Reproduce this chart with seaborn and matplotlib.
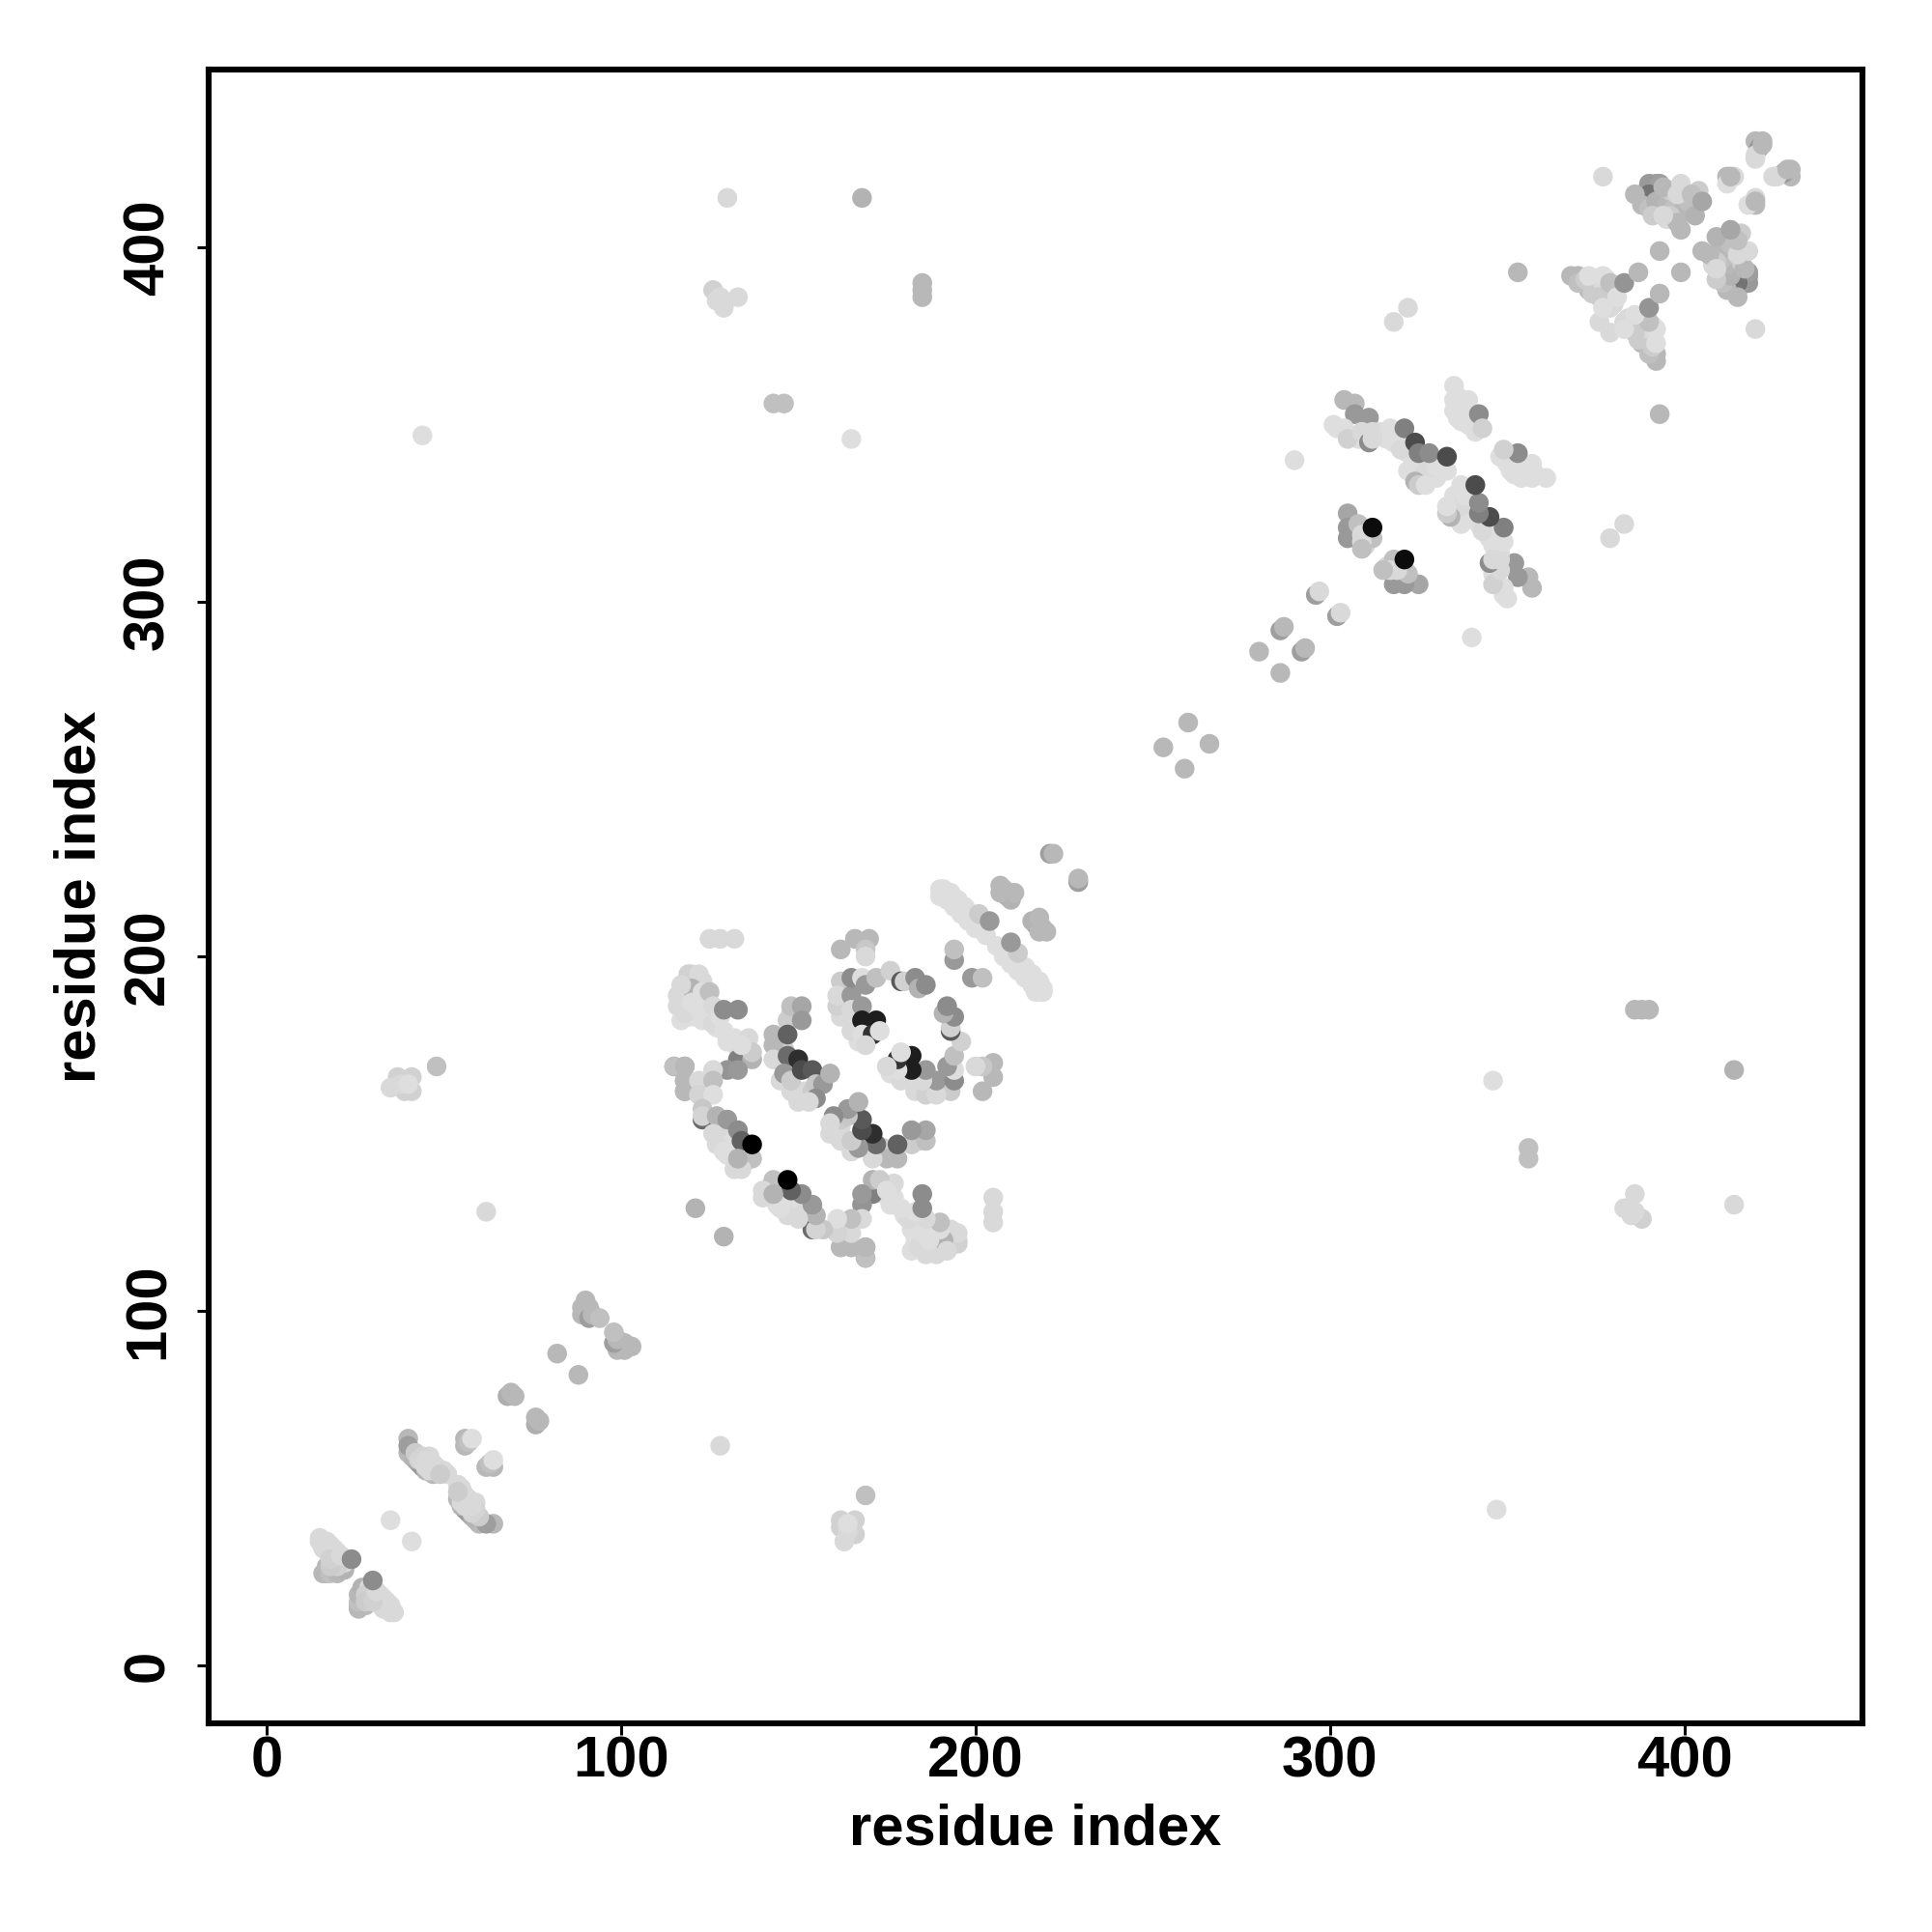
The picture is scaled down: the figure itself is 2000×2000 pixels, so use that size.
import pandas as pd
import matplotlib.pyplot as plt
import seaborn as sns

sns.set_style("white")
plt.rcParams['font.family'] = ['Liberation Sans', 'DejaVu Sans']
plt.rcParams['font.weight'] = 'bold'

# contacts as (residue i, residue j, grey level), only i < j, the map is symmetric
# drawn in list order, later ones lie on top
nterm = [(16,26,.72),(17,26,.72),(17,28,.72),(18,26,.75),(19,29,.75),(20,26,.72),(21,28,.8),(22,27,.7),
         (15,35,.85),(16,33,.85),(18,32,.85),(20,30,.85),(19,31,.85),(17,33,.85),(22,29,.85),(20,28,.82),(18,28,.8),
         (15,36,.85),(16,35,.85),(17,35,.85),(18,34,.85),(19,33,.85),(20,32,.85),(18,30,.82),(21,31,.85),
         (24,30,.55),(35,41,.87),
         (40,64,.72),(40,60,.72),(41,59,.72),(42,58,.7),(43,57,.66),(44,56,.6),(45,55,.7),(47,54,.72),
         (40,62,.62),(42,60,.8),(43,58,.83),(44,58,.85),(46,55,.85),(47,56,.85),(48,55,.85),(46,59,.85),(45,56,.85),(51,54,.85),
         (44,59,.83),(45,58,.85),(46,57,.85),(47,57,.85),(48,56,.85),(49,55,.85),(50,55,.85),(49,54,.8),
         (56,64,.72),(56,62,.72),(57,63,.75),(58,64,.87),
         (68,76,.68),(70,76,.72),(69,77,.72),(82,88,.72),
         (89,101,.72),(91,101,.72),(89,99,.72),(91,98,.62),(90,103,.72),(92,99,.72),(94,98,.75)]

far = [(130,414,.85),(168,414,.7),(126,388,.82),(127,385,.85),(129,383,.85),(128,386,.85),(133,386,.85),
       (185,386,.72),(185,388,.72),(185,390,.72),(143,356,.75),(146,356,.75),(44,347,.87),(165,346,.87),
       (37,166,.82),(41,166,.82),(39,162,.82),(41,162,.82),(37,164,.82),(48,169,.75),(62,128,.85),(121,129,.7),
       (38,164,.85),(35,163,.85),(40,164,.87)]

arc_low = [(125,205,.85),(128,205,.85),(132,205,.85),(115,169,.72),(118,162,.72),(118,165,.72),(118,169,.72),
           (131,146,.05),(116,186,.85),(117,190,.85),(118,187,.85),(119,190,.85),(120,184,.85),(121,186,.85),
           (122,187,.85),(121,192,.85),(123,193,.85),(124,188,.85),(117,182,.87),(124,183,.87),(120,195,.87),
           (119,183,.87),(121,183,.87),(123,182,.87),(125,184,.87),(127,180,.87),(130,176,.87),(133,174,.87),
           (135,172,.85),(129,148,.87),(131,148,.87),(130,144,.87),(127,147,.85),(128,152,.85),(135,142,.85)]

arc_one = [(119,195,.82),(122,195,.85),(116,189,.85),(118,184,.85),(120,191,.7),(117,192,.85),(120,187,.87),
           (123,190,.87),(122,185,.87),(125,190,.75),(126,186,.85),(126,181,.85),(128,183,.87),
           (129,185,.55),(133,185,.55),(129,179,.87),(132,177,.87),(136,177,.85),
           (133,171,.5),(137,171,.7),(130,168,.58),(133,168,.6),(137,173,.8),(134,175,.87),
           (115,169,.75),(118,169,.72),(118,165,.72),(118,162,.72),(122,165,.85),(122,161,.83),
           (126,168,.85),(126,165,.75),(126,161,.87),(123,157,.78),(123,154,.42),(123,155,.83),
           (127,155,.7),(130,154,.6),(133,151,.55),(126,150,.85),(129,145,.87),
           (134,148,.38),(137,143,.75),(134,140,.85),(132,140,.85),(133,143,.7),(137,147,.0)]

arc_two = [(146,170,.85),(144,172,.85),(145,165,.85),(148,162,.85),(150,162,.85),(152,162,.85),(154,162,.8),
           (146,174,.8),(147,182,.8),(148,184,.8),(149,183,.8),
           (148,186,.75),(151,186,.65),(151,182,.6),(143,178,.72),(143,175,.72),(143,171,.85),(147,178,.38),
           (147,172,.42),(146,167,.6),(148,165,.8),(150,171,.18),(151,168,.3),(154,168,.35),(155,164,.78),
           (157,164,.6),(159,167,.7),(155,160,.55),(150,159,.85),(153,159,.85)]

arc_top = [(162,202,.72),(166,205,.72),(170,205,.72),(169,202,.78),(169,200,.85),
           (163,190,.85),(163,186,.85),(162,183,.85),(164,184,.85),(166,180,.87),(167,176,.87),(169,178,.87),
           (162,193,.8),(161,186,.82),(161,189,.85),(165,189,.6),(165,194,.55),(168,194,.87),(169,192,.6),
           (172,194,.75),(176,196,.82),(179,193,.35),(180,193,.82),(183,194,.55),(184,191,.7),(186,192,.55),
           (165,185,.85),(168,186,.6),(165,179,.85),(168,182,.12),(172,182,.12),(168,178,.87),(171,178,.2),
           (169,175,.85),(173,179,.87)]

band = [(190,217,.87),(192,216,.87),(194,214,.87),(196,212,.87),(198,210,.87),(200,208,.87),(203,206,.87),
        (191,219,.87),(193,218,.87),(195,216,.87),(197,214,.87),(199,212,.87),(201,211,.87),
        (190,219,.87),(191,218,.87),(192,218,.87),(193,217,.87),(194,216,.87),(195,215,.87),(196,214,.87),
        (197,213,.87),(198,212,.87),(199,211,.87),(200,210,.87),(201,209,.87),(202,208,.87),(201,212,.8),(204,210,.6),
        (207,220,.72),(208,219,.72),(209,217,.62),(210,216,.7),(211,218,.72),(207,218,.72),
        (221,229,.62),(222,229,.72),(194,199,.6),(194,202,.75),(253,259,.72),(260,266,.72),
        (280,286,.72),(286,292,.62),(287,293,.72),(296,302,.62),(297,303,.85)]

mid_dom = [(304,357,.72),(307,356,.72),(307,353,.6),(311,352,.6),(302,349,.87),(304,349,.87),(306,347,.87),
           (308,346,.87),(310,347,.87),(314,348,.87),(316,346,.87),(318,345,.87),(320,344,.87),(322,342,.87),
           (324,340,.87),(326,339,.87),(328,338,.87),(326,336,.87),(322,337,.87),(329,335,.87),(331,339,.87),
           (333,337,.87),(330,335,.87),
           (301,350,.87),(305,346,.82),(309,348,.85),
           (311,345,.55),(312,348,.85),(312,346,.85),(317,349,.87),(321,349,.5),(320,343,.85),(324,339,.87),
           (327,337,.85),(330,338,.87),(324,334,.7),(325,333,.8),(327,333,.87),(324,345,.3),(325,342,.5),
           (328,342,.55),(333,341,.3),
           (336,358,.87),(337,355,.87),(338,353,.87),(340,352,.87),(336,352,.87),(341,348,.87),(335,357,.87),(337,351,.87),
           (335,361,.87),(339,357,.87),(335,354,.87),(339,350,.87),(342,353,.55),(343,349,.82),
           (290,340,.87),(318,379,.85),(322,383,.85),
           (305,325,.65),(305,321,.6),(305,318,.6),(308,322,.75),(309,319,.85),(311,319,.85),(310,316,.85),
           (312,318,.75),(309,317,.85),(309,315,.75),(312,321,.05)]

cterm = [(353,393,.72),(368,392,.72),(370,392,.72),(373,388,.72),(370,390,.75),(372,391,.8),(374,391,.85),(375,390,.85),
         (376,390,.85),(378,391,.85),(374,387,.8),(379,387,.85),(380,388,.85),
         (378,387,.85),(380,384,.85),(376,379,.85),(379,383,.85),(381,389,.85),(377,390,.85),
         (373,392,.87),(377,392,.87),(376,386,.8),
         (379,390,.75),(381,386,.87),(377,383,.87),(383,390,.58),(387,393,.72),(393,399,.72),(377,420,.85),
         (390,412,.72),(391,413,.55),(392,418,.62),(390,417,.65),(394,412,.85),(395,408,.85),(399,414,.82),(402,411,.85),(404,416,.8),
         (388,415,.6),(390,418,.6),(393,418,.62),(389,413,.72),(390,415,.45),(393,414,.45),(388,412,.72),(390,411,.75),
         (392,413,.7),(395,412,.72),(396,416,.8),(397,411,.75),(400,411,.72),(401,413,.75),(396,409,.8),(398,407,.72),
         (391,409,.8),(386,415,.72),(394,417,.72),(394,409,.85),
         (399,418,.85),(398,415,.85),(402,415,.75),(403,409,.7),(399,405,.72),(405,413,.65),
         (412,420,.72),(414,420,.85),(412,418,.87),(413,420,.72),(420,430,.72),(422,430,.72),(421,428,.6),(420,426,.85),
         (420,425,.85),(422,429,.72)]

regions = [nterm, far, arc_low, arc_one, arc_two, arc_top, band, mid_dom, cterm]

rows = []
for region in regions:
    for i, j, g in region:
        rows.append((i, j, g))
        rows.append((j, i, g))
df = pd.DataFrame(rows, columns=["x", "y", "grey"])

xticks = [0, 100, 200, 300, 400]

fig = plt.figure(figsize=(10, 10), dpi=200)
ax = fig.add_axes([0.108, 0.108, 0.856, 0.856])
sns.scatterplot(data=df, x="x", y="y", hue="grey", palette="gray", hue_norm=(0, 1),
                s=54, linewidth=0, legend=False, ax=ax)

ax.set_xlim(-16.3, 450.2)
ax.set_ylim(-16.3, 450.2)
ax.set_xticks(xticks)
ax.set_yticks(xticks)
ax.tick_params(axis="both", length=4.2, width=1.1, color="black", labelcolor="black", labelsize=21.5,
               left=True, bottom=True)
ax.tick_params(axis="x", pad=0.2)
ax.tick_params(axis="y", pad=8.3)
plt.setp(ax.get_yticklabels(), rotation=90, va="center")
for spine in ax.spines.values():
    spine.set_linewidth(2.2)
    spine.set_color("black")
    spine.set_visible(True)

ax.set_xlabel("residue index", fontsize=21.5, fontweight="bold", color="black", labelpad=5.5)
ax.set_ylabel("residue index", fontsize=21.5, fontweight="bold", color="black", labelpad=5.7)

plt.savefig("out.png", dpi=200)
